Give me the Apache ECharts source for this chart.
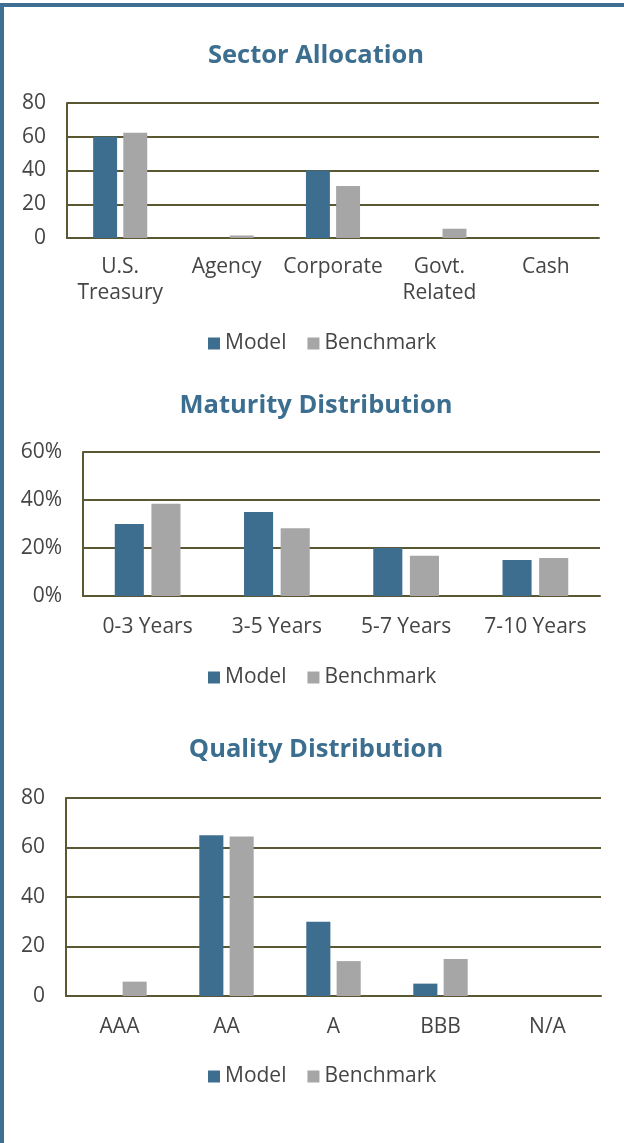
<!DOCTYPE html>
<html>
<head>
<meta charset="utf-8">
<script src="https://cdn.jsdelivr.net/npm/echarts@6/dist/echarts.min.js"></script>
<style>
html,body{margin:0;padding:0;background:#fff;}
#frame{position:absolute;left:0;top:0;width:624px;height:1143px;box-sizing:border-box;border-top:4px solid #3E6E91;border-left:4px solid #3E6E91;margin-top:3px;}
#chart{position:absolute;left:0;top:0;width:624px;height:1143px;}
</style>
</head>
<body>
<div id="frame"></div>
<div id="chart"></div>
<script>
// ---- data ----
const titles = ['Sector Allocation', 'Maturity Distribution', 'Quality Distribution'];
const seriesNames = ['Model', 'Benchmark'];

const sectorCategories = ['U.S.\nTreasury', 'Agency', 'Corporate', 'Govt.\nRelated', 'Cash'];
const sectorModel = [60, 0, 40, 0, 0];
const sectorBenchmark = [62.4, 1.5, 30.8, 5.5, 0];

const maturityCategories = ['0-3 Years', '3-5 Years', '5-7 Years', '7-10 Years'];
const maturityModel = [30, 35, 20, 15];
const maturityBenchmark = [38.4, 28.2, 16.8, 15.8];

const qualityCategories = ['AAA', 'AA', 'A', 'BBB', 'N/A'];
const qualityModel = [0, 65, 30, 5, 0];
const qualityBenchmark = [5.8, 64.4, 14.1, 15, 0];

// ---- styling ----
const FONT = '"Open Sans", sans-serif';
const TXT = '#454545';
const GRID = '#5A5733';
const C_MODEL = '#3E6E8F';
const C_BENCH = '#A6A6A6';

const chart = echarts.init(document.getElementById('chart'), null, {renderer: 'canvas'});

const grids = [
  {left: 67, right: 25, top: 103, height: 135},
  {left: 83, right: 24, top: 452, height: 144},
  {left: 66, right: 23, top: 798, height: 198}
];
const titleTops = [38, 388, 732];
const legendTops = [328, 662, 1061];
const xMargins = [16, 18, 18];
const cats = [sectorCategories, maturityCategories, qualityCategories];
const yMax = [80, 60, 80];
const yInt = [20, 20, 20];
const yFmt = ['{value}', '{value}%', '{value}'];
const dataM = [sectorModel, maturityModel, qualityModel];
const dataB = [sectorBenchmark, maturityBenchmark, qualityBenchmark];

const option = {
  animation: false,
  textStyle: {fontFamily: FONT},
  title: titles.map((t, i) => ({
    text: t, left: 311, top: titleTops[i], textAlign: 'center',
    textStyle: {fontFamily: FONT, fontSize: 25.5, fontWeight: 'bold', color: '#3C6E90'}
  })),
  legend: legendTops.map(t => ({
    data: seriesNames, top: t, left: 203, itemWidth: 12, itemHeight: 12, itemGap: 21,
    icon: 'rect', selectedMode: false,
    textStyle: {fontFamily: FONT, fontSize: 21, color: TXT}
  })),
  grid: grids,
  xAxis: cats.map((c, i) => ({
    type: 'category', gridIndex: i, data: c,
    axisLine: {show: true, lineStyle: {color: GRID, width: 2}},
    axisTick: {show: false},
    axisLabel: {fontFamily: FONT, fontSize: 21, color: TXT, margin: xMargins[i], lineHeight: 26, interval: 0}
  })),
  yAxis: yMax.map((m, i) => ({
    type: 'value', gridIndex: i, min: 0, max: m, interval: yInt[i],
    axisLine: {show: true, lineStyle: {color: GRID, width: 2}},
    axisTick: {show: false},
    splitLine: {show: true, lineStyle: {color: GRID, width: 2}},
    axisLabel: {fontFamily: FONT, fontSize: 21, color: TXT, margin: 21, formatter: yFmt[i]}
  })),
  series: []
};

for (let i = 0; i < 3; i++) {
  option.series.push({
    name: 'Model', type: 'bar', xAxisIndex: i, yAxisIndex: i, data: dataM[i],
    barWidth: '22.5%', barGap: '26%',
    itemStyle: {color: C_MODEL}
  });
  option.series.push({
    name: 'Benchmark', type: 'bar', xAxisIndex: i, yAxisIndex: i, data: dataB[i],
    barWidth: '22.5%', barGap: '26%',
    itemStyle: {color: C_BENCH}
  });
}

chart.setOption(option);
</script>
</body>
</html>
